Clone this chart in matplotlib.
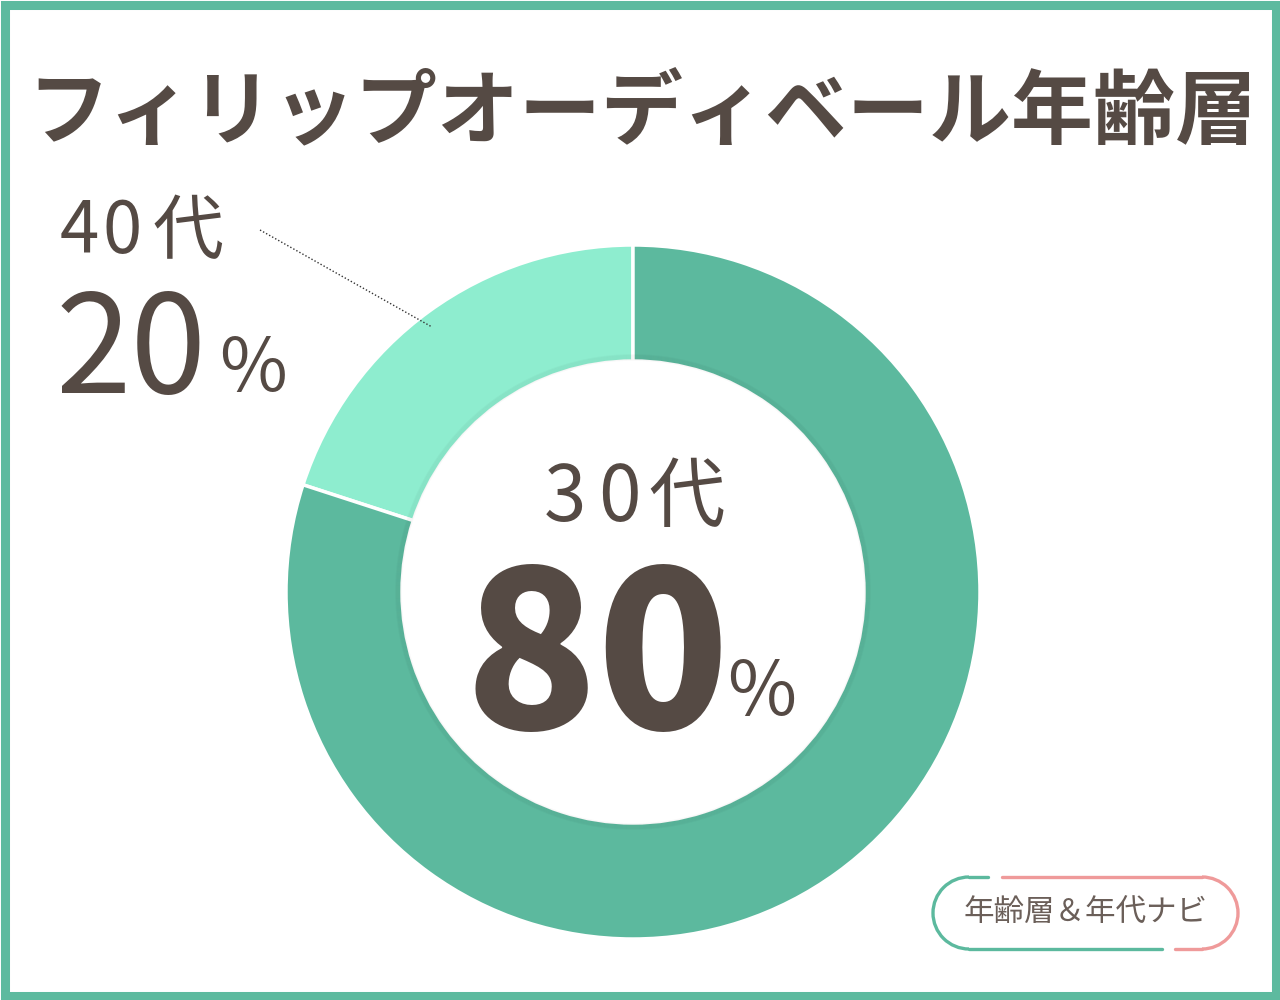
import matplotlib
matplotlib.use("Agg")
import matplotlib.pyplot as plt
from matplotlib.patches import Rectangle, Arc
import numpy as np

plt.rcParams['font.family'] = ['Noto Sans CJK JP', 'DejaVu Sans']

# data
title = "フィリップオーディベール年齢層"
labels = ["40代", "30代"]
shares = [20, 80]
colors = ["#8eedcf", "#5cb99e"]
badge_text = "年齢層＆年代ナビ"

TEXT = "#554a44"
BORDER = "#5dba9f"
W, H = 1280, 1000

fig = plt.figure(figsize=(W / 100, H / 100), dpi=100)
ax = fig.add_axes([0, 0, 1, 1])


def Y(y):
    # image coords (top-down) -> axes coords
    return H - y


def spaced(xs, y, s, size, **kw):
    # draw a label char by char so it gets the wide tracking of the original
    for x, ch in zip(xs, s):
        ax.text(x, Y(y), ch, ha='left', va='center',
                fontsize=size, color=TEXT, **kw)


# frame
ax.add_patch(Rectangle((4.5, 4.5), W - 9, H - 9, fill=False,
                       edgecolor=BORDER, linewidth=6.5))

# donut
cx, cy, r_out, ring = 633, 592, 347, 116
ax.pie(shares, colors=colors, startangle=90, counterclock=True,
       center=(cx, Y(cy)), radius=r_out, frame=True,
       wedgeprops=dict(width=ring, edgecolor='white', linewidth=2.5))
ax.set_xlim(0, W)
ax.set_ylim(0, H)
ax.set_aspect('equal')
ax.axis('off')

# soft shade along inner edge of ring
for i in range(6):
    ax.add_patch(plt.Circle((cx, Y(cy)), r_out - ring + 1 + i, fill=False,
                            edgecolor='black', alpha=0.025, linewidth=1.2))

# title
ax.text(642, Y(114), title, ha='center', va='center', fontsize=59,
        fontweight='bold', color=TEXT)

# 40代 label
spaced([60, 103, 152], 232, labels[0], 51)
ax.text(56, Y(354), str(shares[0]), ha='left', va='center', fontsize=98,
        color=TEXT)
ax.text(219, Y(370), "%", ha='left', va='center', fontsize=53, color=TEXT)
ax.plot([260, 432], [Y(230), Y(327)], color='#333333', linestyle=(0, (1, 1.5)),
        linewidth=1)

# 30代 label
spaced([544, 598, 648], 499, labels[1], 55)
ax.text(597, Y(664), str(shares[1]), ha='center', va='center', fontsize=157,
        fontweight='black', color=TEXT)
ax.text(727, Y(693), "%", ha='left', va='center', fontsize=54, color=TEXT)

# badge
GREEN, PINK = "#5cb99e", "#ef9a9a"
bl, br, by, brad = 969, 1202, 913, 36
lw = 2.4
ax.add_patch(Arc((bl, Y(by)), 2 * brad, 2 * brad, theta1=90, theta2=270,
                 edgecolor=GREEN, linewidth=lw))
ax.add_patch(Arc((br, Y(by)), 2 * brad, 2 * brad, theta1=-90, theta2=90,
                 edgecolor=PINK, linewidth=lw))
ax.plot([bl, 988], [Y(by - brad)] * 2, color=GREEN, linewidth=lw,
        solid_capstyle='round')
ax.plot([1002, br], [Y(by - brad)] * 2, color=PINK, linewidth=lw,
        solid_capstyle='round')
ax.plot([bl, 1162], [Y(by + brad)] * 2, color=GREEN, linewidth=lw,
        solid_capstyle='round')
ax.plot([1175, br], [Y(by + brad)] * 2, color=PINK, linewidth=lw,
        solid_capstyle='round')
ax.text(1086, Y(913), badge_text, ha='center', va='center', fontsize=22,
        color="#6b5f59")

fig.savefig("out.png", dpi=100)
